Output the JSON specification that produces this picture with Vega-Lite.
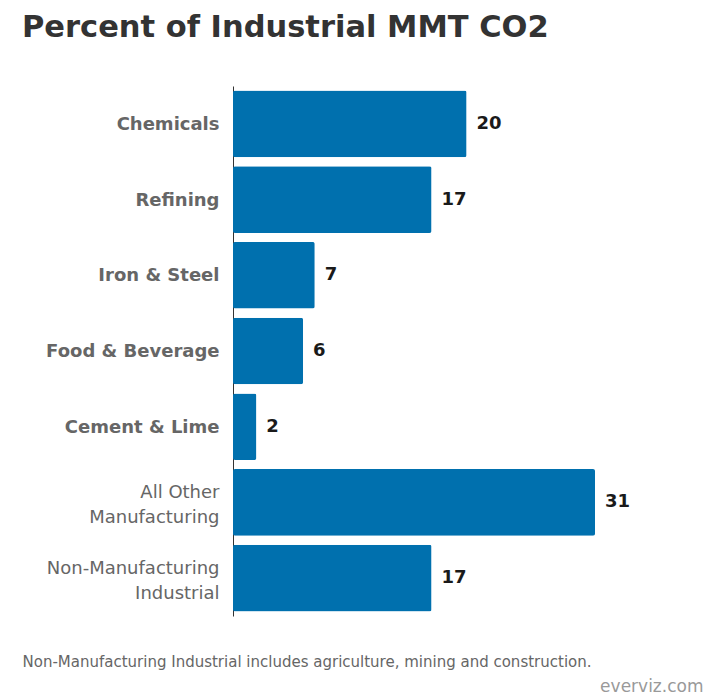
{
  "$schema": "https://vega.github.io/schema/vega-lite/v6.json",
  "autosize": "none",
  "padding": {"left": 233, "top": 86, "right": 111, "bottom": 81},
  "width": 362,
  "height": 530,
  "background": "white",
  "title": {
    "text": "Percent of Industrial MMT CO2",
    "anchor": "start",
    "frame": "group",
    "dx": -211,
    "offset": 19,
    "baseline": "alphabetic",
    "font": "DejaVu Sans",
    "fontSize": 30.5,
    "fontWeight": "bold",
    "color": "#333333"
  },
  "data": {
    "values": [
      {"sector": "Chemicals", "value": 20},
      {"sector": "Refining", "value": 17},
      {"sector": "Iron & Steel", "value": 7},
      {"sector": "Food & Beverage", "value": 6},
      {"sector": "Cement & Lime", "value": 2},
      {"sector": "All Other|Manufacturing", "value": 31},
      {"sector": "Non-Manufacturing|Industrial", "value": 17}
    ]
  },
  "encoding": {
    "y": {
      "field": "sector",
      "type": "nominal",
      "sort": null,
      "scale": {"paddingInner": 0.12, "paddingOuter": 0.06},
      "axis": {
        "title": "everviz.com",
        "titleAngle": 0,
        "titleAlign": "right",
        "titleBaseline": "middle",
        "titleX": 470,
        "titleY": 600,
        "titleFont": "DejaVu Sans",
        "titleFontSize": 17,
        "titleFontWeight": "normal",
        "titleColor": "#999999",
        "domainColor": "#333333",
        "domainWidth": 1,
        "ticks": false,
        "labelPadding": 14,
        "labelFont": "DejaVu Sans",
        "labelFontSize": 18,
        "labelColor": "#666666",
        "labelLineHeight": 25,
        "labelLimit": 300,
        "labelExpr": "split(datum.label, '|')",
        "labelOffset": {"condition": {"test": "indexof(datum.label, '|') >= 0", "value": -9}, "value": 1},
        "labelFontWeight": {"condition": {"test": "indexof(datum.label, '|') >= 0", "value": "normal"}, "value": "bold"}
      }
    },
    "x": {
      "field": "value",
      "type": "quantitative",
      "scale": {"domain": [0, 31], "nice": false, "zero": true},
      "axis": {
        "title": "Non-Manufacturing Industrial includes agriculture, mining and construction.",
        "titleX": -211,
        "titleY": 45,
        "titleAlign": "left",
        "titleAnchor": null,
        "titleBaseline": "middle",
        "titleFont": "DejaVu Sans",
        "titleFontSize": 15,
        "titleFontWeight": "normal",
        "titleColor": "#666666",
        "domain": false,
        "ticks": false,
        "labels": false,
        "grid": false
      }
    }
  },
  "layer": [
    {
      "mark": {"type": "bar", "color": "#0070ae", "cornerRadius": 2}
    },
    {
      "mark": {"type": "text", "align": "left", "baseline": "middle", "dx": 10, "font": "DejaVu Sans", "fontSize": 18, "fontWeight": "bold", "color": "#1a1a1a"},
      "encoding": {"text": {"field": "value", "type": "quantitative"}}
    }
  ],
  "config": {"view": {"stroke": null}}
}
